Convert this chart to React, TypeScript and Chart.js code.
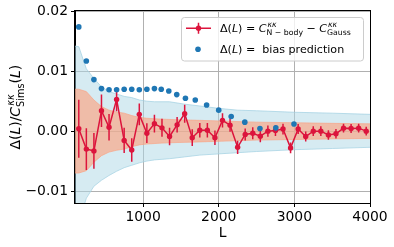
import React, { useEffect, useRef } from "react";
import { Chart, registerables } from "chart.js";
Chart.register(...registerables);

// ---- data ----
const redL = [150, 250, 350, 450, 550, 650, 750, 850, 950, 1050, 1150, 1250, 1350, 1450, 1550, 1650, 1750, 1850, 1950, 2050, 2150, 2250, 2350, 2450, 2550, 2650, 2750, 2850, 2950, 3050, 3150, 3250, 3350, 3450, 3550, 3650, 3750, 3850, 3950];
const redValues = [0.0004, -0.003, -0.0033, 0.0034, 0.00065, 0.0053, -0.00155, -0.00315, 0.0028, -0.00035, 0.00125, 0.00055, -0.0009, 0.00105, 0.0029, -0.0011, 0.00015, 0.00015, -0.0011, 0.0018, 0.001, -0.0027, -0.00055, -0.00035, -0.00085, 0.0, 0.0001, 0.00035, -0.0028, 0.00035, -0.0009, 0.0, 0.0, -0.00065, -0.00045, 0.0005, 0.00045, 0.0005, 0.0];
const redErrors = [0.00485, 0.0035, 0.003, 0.0027, 0.0022, 0.002, 0.0021, 0.00195, 0.0018, 0.00165, 0.0015, 0.0015, 0.00145, 0.0013, 0.0015, 0.0014, 0.0012, 0.0012, 0.0012, 0.0012, 0.0011, 0.0011, 0.001, 0.001, 0.001, 0.00095, 0.0009, 0.0009, 0.0009, 0.00085, 0.00085, 0.0008, 0.0008, 0.0008, 0.0008, 0.00075, 0.00075, 0.00075, 0.00075];

const biasL = [150, 250, 350, 450, 550, 650, 750, 850, 950, 1050, 1150, 1240, 1340, 1445, 1560, 1690, 1840, 2000, 2165, 2345, 2545, 2755, 2995];
const biasValues = [0.0174, 0.0117, 0.0086, 0.0071, 0.0069, 0.0069, 0.007, 0.007, 0.0069, 0.007, 0.0071, 0.007, 0.0067, 0.0061, 0.0055, 0.0052, 0.00435, 0.0035, 0.00245, 0.0015, 0.00045, 0.00055, 0.0012];

const simsBandL = [100, 150, 250, 350, 450, 550, 650, 750, 850, 950, 1050, 1150, 1350, 1550, 1750, 2000, 2250, 2500, 3000, 3500, 4000];
const simsBandUpper = [0.0142, 0.0141, 0.0104, 0.0088, 0.0074, 0.0066, 0.0062, 0.0058, 0.0056, 0.0052, 0.005, 0.0049, 0.0049, 0.0045, 0.0042, 0.0038, 0.0035, 0.0034, 0.00315, 0.003, 0.0028];
const simsBandLower = [-0.016, -0.0152, -0.0112, -0.0092, -0.0082, -0.0074, -0.0067, -0.0061, -0.0057, -0.0053, -0.005, -0.0048, -0.0046, -0.0043, -0.004, -0.0038, -0.0036, -0.0034, -0.0031, -0.0029, -0.0027];

const meanBandL = [100, 150, 250, 350, 450, 550, 650, 750, 850, 950, 1050, 1250, 1450, 1750, 2000, 2500, 3000, 3500, 4000];
const meanBandHalf = [0.007, 0.007, 0.0066, 0.0052, 0.0041, 0.0035, 0.0032, 0.003, 0.0026, 0.0023, 0.00215, 0.002, 0.0019, 0.0018, 0.0017, 0.0015, 0.0014, 0.0013, 0.00122];

const xTicks = [1000, 2000, 3000, 4000];
const xTickLabels = ["1000", "2000", "3000", "4000"];
const yTicks = [-0.01, 0, 0.01, 0.02];
const yTickLabels = ["\u22120.01", "0.00", "0.01", "0.02"];

// ---- styling ----
const FAM = '"DejaVu Sans"';
const RED = "#dc143c";
const BLUE = "#1f77b4";

type Seg = { t: string; it?: boolean; sup?: string; sub?: string };

function fnt(size: number, it?: boolean) {
  return `${it ? "italic " : ""}${size}px ${FAM}`;
}

function measureRich(ctx: CanvasRenderingContext2D, segs: Seg[], size: number) {
  let w = 0;
  for (const s of segs) {
    ctx.font = fnt(size, s.it);
    w += ctx.measureText(s.t).width;
    let sw = 0;
    if (s.sup) {
      ctx.font = fnt(size * 0.7, true);
      sw = Math.max(sw, ctx.measureText(s.sup).width + size * 0.08);
    }
    if (s.sub) {
      ctx.font = fnt(size * 0.7, false);
      sw = Math.max(sw, ctx.measureText(s.sub).width);
    }
    w += sw;
  }
  return w;
}

function drawRich(ctx: CanvasRenderingContext2D, x: number, y: number, segs: Seg[], size: number) {
  let cx = x;
  ctx.textBaseline = "alphabetic";
  ctx.textAlign = "left";
  for (const s of segs) {
    ctx.font = fnt(size, s.it);
    ctx.fillText(s.t, cx, y);
    cx += ctx.measureText(s.t).width;
    let sw = 0;
    if (s.sup) {
      ctx.font = fnt(size * 0.7, true);
      ctx.fillText(s.sup, cx + size * 0.08, y - size * 0.45);
      sw = Math.max(sw, ctx.measureText(s.sup).width + size * 0.08);
    }
    if (s.sub) {
      ctx.font = fnt(size * 0.7, false);
      ctx.fillText(s.sub, cx, y + size * 0.28);
      sw = Math.max(sw, ctx.measureText(s.sub).width);
    }
    cx += sw;
  }
}

const yTitleSegs: Seg[] = [
  { t: "\u0394(" },
  { t: "L", it: true },
  { t: ")/" },
  { t: "C", it: true, sup: "\u03ba\u03ba", sub: "Sims" },
  { t: "(" },
  { t: "L", it: true },
  { t: ")" },
];
const legendLine1: Seg[] = [
  { t: "\u0394(" },
  { t: "L", it: true },
  { t: ") = " },
  { t: "C", it: true, sup: "\u03ba\u03ba", sub: "N \u2212 body" },
  { t: " \u2212 " },
  { t: "C", it: true, sup: "\u03ba\u03ba", sub: "Gauss" },
];
const legendLine2: Seg[] = [
  { t: "\u0394(" },
  { t: "L", it: true },
  { t: ") =  bias prediction" },
];

const errorBarPlugin = {
  id: "errorBars",
  beforeDatasetDraw(chart: any, args: any) {
    if (args.index !== 0) return;
    const { ctx, chartArea } = chart;
    const xs = chart.scales.x;
    const ys = chart.scales.y;
    ctx.save();
    ctx.beginPath();
    ctx.rect(chartArea.left, chartArea.top, chartArea.right - chartArea.left, chartArea.bottom - chartArea.top);
    ctx.clip();
    ctx.strokeStyle = RED;
    ctx.lineWidth = 1.5;
    for (let i = 0; i < redL.length; i++) {
      const px = xs.getPixelForValue(redL[i]);
      ctx.beginPath();
      ctx.moveTo(px, ys.getPixelForValue(redValues[i] + redErrors[i]));
      ctx.lineTo(px, ys.getPixelForValue(redValues[i] - redErrors[i]));
      ctx.stroke();
    }
    ctx.restore();
  },
};

const decorPlugin = {
  id: "decor",
  afterDraw(chart: any) {
    const { ctx, chartArea } = chart;
    ctx.save();
    // frame
    ctx.strokeStyle = "#000";
    ctx.lineWidth = 1;
    ctx.strokeRect(
      Math.round(chartArea.left) - 0.5,
      Math.round(chartArea.top) - 0.5,
      Math.round(chartArea.right - chartArea.left) + 1,
      Math.round(chartArea.bottom - chartArea.top) + 1
    );
    // y title
    ctx.fillStyle = "#000";
    const ts = 13.9;
    const tw = measureRich(ctx, yTitleSegs, ts);
    ctx.save();
    ctx.translate(20, (chartArea.top + chartArea.bottom) / 2);
    ctx.rotate(-Math.PI / 2);
    drawRich(ctx, -tw / 2, 0, yTitleSegs, ts);
    ctx.restore();

    // legend box
    const bx = 181.5, by = 17.5, bw = 182, bh = 43.5, r = 3;
    ctx.beginPath();
    ctx.moveTo(bx + r, by);
    ctx.lineTo(bx + bw - r, by);
    ctx.arcTo(bx + bw, by, bx + bw, by + r, r);
    ctx.lineTo(bx + bw, by + bh - r);
    ctx.arcTo(bx + bw, by + bh, bx + bw - r, by + bh, r);
    ctx.lineTo(bx + r, by + bh);
    ctx.arcTo(bx, by + bh, bx, by + bh - r, r);
    ctx.lineTo(bx, by + r);
    ctx.arcTo(bx, by, bx + r, by, r);
    ctx.closePath();
    ctx.fillStyle = "rgba(255,255,255,0.8)";
    ctx.fill();
    ctx.strokeStyle = "#cccccc";
    ctx.lineWidth = 1;
    ctx.stroke();

    // legend markers
    const y1 = 28.3, y2 = 49.3;
    ctx.strokeStyle = RED;
    ctx.lineWidth = 1.5;
    ctx.beginPath();
    ctx.moveTo(186, y1);
    ctx.lineTo(211, y1);
    ctx.moveTo(198.5, y1 - 5.5);
    ctx.lineTo(198.5, y1 + 5.5);
    ctx.stroke();
    ctx.fillStyle = RED;
    ctx.beginPath();
    ctx.arc(198.5, y1, 2.7, 0, Math.PI * 2);
    ctx.fill();
    ctx.fillStyle = BLUE;
    ctx.beginPath();
    ctx.arc(198, y2, 2.8, 0, Math.PI * 2);
    ctx.fill();

    // legend text
    ctx.fillStyle = "#000";
    drawRich(ctx, 220, y1 + 4, legendLine1, 11.1);
    drawRich(ctx, 220, y2 + 4, legendLine2, 11.1);
    ctx.restore();
  },
};

export default function App() {
  const ref = useRef<HTMLCanvasElement>(null);
  useEffect(() => {
    const redData = redL.map((x, i) => ({ x, y: redValues[i] }));
    const biasData = biasL.map((x, i) => ({ x, y: biasValues[i] }));
    const simsUp = simsBandL.map((x, i) => ({ x, y: simsBandUpper[i] }));
    const simsLo = simsBandL.map((x, i) => ({ x, y: simsBandLower[i] }));
    const meanUp = meanBandL.map((x, i) => ({ x, y: meanBandHalf[i] }));
    const meanLo = meanBandL.map((x, i) => ({ x, y: -meanBandHalf[i] }));

    const tickFont = { family: FAM, size: 13.9 };
    const chart = new Chart(ref.current as HTMLCanvasElement, {
      type: "line",
      data: {
        datasets: [
          {
            data: redData,
            borderColor: RED,
            backgroundColor: RED,
            borderWidth: 1.5,
            pointRadius: 2.7,
            pointBorderWidth: 0,
            pointBackgroundColor: RED,
            fill: false,
            tension: 0,
            order: 1,
          },
          {
            data: biasData,
            showLine: false,
            pointRadius: 2.8,
            pointBorderWidth: 0,
            pointBackgroundColor: BLUE,
            borderColor: BLUE,
            backgroundColor: BLUE,
            fill: false,
            order: 0,
          },
          {
            data: meanUp,
            borderColor: "rgba(250,160,130,0.8)",
            borderWidth: 0.8,
            backgroundColor: "rgba(255,160,122,0.62)",
            pointRadius: 0,
            fill: "+1",
            order: 2,
          },
          {
            data: meanLo,
            borderColor: "rgba(250,160,130,0.8)",
            borderWidth: 0.8,
            pointRadius: 0,
            fill: false,
            order: 2,
          },
          {
            data: simsUp,
            borderColor: "rgba(160,208,226,0.9)",
            borderWidth: 0.8,
            backgroundColor: "rgba(173,216,230,0.5)",
            pointRadius: 0,
            fill: "+1",
            order: 3,
          },
          {
            data: simsLo,
            borderColor: "rgba(160,208,226,0.9)",
            borderWidth: 0.8,
            pointRadius: 0,
            fill: false,
            order: 3,
          },
        ],
      },
      options: {
        responsive: false,
        animation: false,
        devicePixelRatio: 1,
        layout: { padding: { left: 0, right: 24, top: 11, bottom: 0 } },
        plugins: { legend: { display: false }, tooltip: { enabled: false } },
        scales: {
          x: {
            type: "linear",
            min: 100,
            max: 4000,
            afterBuildTicks: (s: any) => {
              s.ticks = xTicks.map((v) => ({ value: v }));
            },
            afterFit: (s: any) => {
              s.height = 44;
            },
            ticks: {
              font: tickFont,
              color: "#000",
              padding: 2,
              maxRotation: 0,
              autoSkip: false,
              callback: (v: any) => xTickLabels[xTicks.indexOf(Number(v))] ?? "",
            },
            grid: { color: "#b0b0b0", lineWidth: 1, tickColor: "#000", tickLength: 4, drawTicks: true },
            border: { color: "#000", width: 1 },
            title: { display: true, text: "L", color: "#000", font: { family: FAM, size: 13.9 }, padding: { top: 0, bottom: 5 } },
          },
          y: {
            type: "linear",
            min: -0.012,
            max: 0.02,
            afterBuildTicks: (s: any) => {
              s.ticks = yTicks.map((v) => ({ value: v }));
            },
            afterFit: (s: any) => {
              s.width = 75;
            },
            ticks: {
              font: tickFont,
              color: "#000",
              padding: 3,
              autoSkip: false,
              callback: (v: any) => {
                const i = yTicks.findIndex((t) => Math.abs(t - Number(v)) < 1e-9);
                return i >= 0 ? yTickLabels[i] : "";
              },
            },
            grid: { color: "#b0b0b0", lineWidth: 1, tickColor: "#000", tickLength: 4 },
            border: { color: "#000", width: 1 },
          },
        },
      },
      plugins: [errorBarPlugin, decorPlugin],
    } as any);
    return () => chart.destroy();
  }, []);
  return (
    <div style={{ position: "fixed", left: 0, top: 0, width: 394, height: 247, background: "#fff" }}>
      <canvas ref={ref} width={394} height={247} style={{ display: "block", width: 394, height: 247 }} />
    </div>
  );
}
